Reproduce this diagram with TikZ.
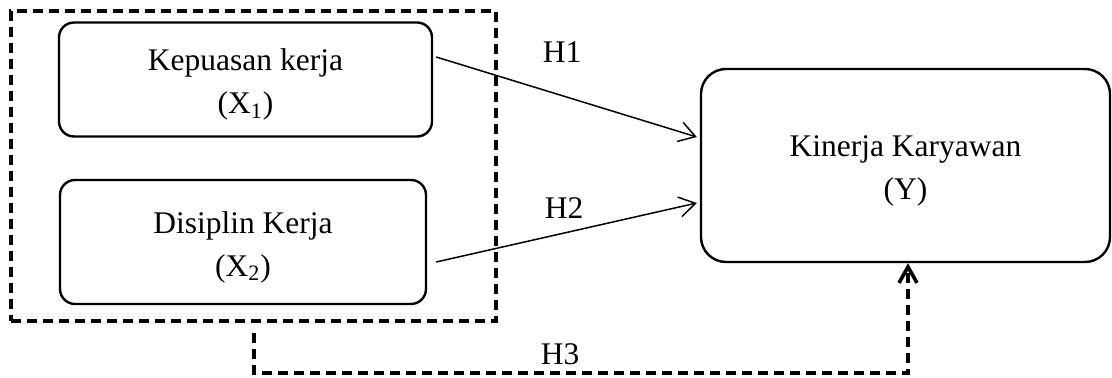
\documentclass[tikz,border=0pt]{standalone}
\usepackage{fontspec}
\setmainfont{Liberation Serif}
\usetikzlibrary{arrows.meta,calc}
\begin{document}
\begin{tikzpicture}[x=0.5pt,y=-0.5pt,
  every node/.style={font=\fontsize{15.75}{21.5}\selectfont},
  varbox/.style={draw,line width=1.2pt,align=center,inner sep=0pt},
  grpbox/.style={draw,line width=1.8pt,dash pattern=on 5pt off 3pt,inner sep=0pt},
  hyp/.style={line width=0.75pt,-{Straight Barb[length=8pt,width=10pt,line width=0.75pt]}},
  hypdash/.style={line width=1.8pt,dash pattern=on 5pt off 3pt,-{Straight Barb[length=8pt,width=9pt,line width=1.8pt]}},
  lbl/.style={anchor=base,inner sep=0pt}]
\useasboundingbox[fill=white] (0,0) rectangle (1112,378);
\node[grpbox,minimum width=242.5pt,minimum height=155pt] (grp) at (253.5,166) {};
\node[varbox,rounded corners=7.5pt,minimum width=186.5pt,minimum height=57pt] (x1) at (245.5,79.5)
  {\rule{0pt}{16pt}Kepuasan kerja\\(X\textsubscript{1})};
\node[varbox,rounded corners=7.5pt,minimum width=183pt,minimum height=62pt] (x2) at (243,242)
  {\rule{0pt}{16pt}Disiplin Kerja\\(X\textsubscript{2})};
\node[varbox,rounded corners=12.5pt,minimum width=204.5pt,minimum height=96.5pt] (y) at (905.5,165.5)
  {\rule{0pt}{16pt}Kinerja Karyawan\\(Y)};
\coordinate (s1) at ($(x1.east)+(3,-22.5)$);
\coordinate (s2) at ($(x2.east)+(9,20)$);
\draw[hyp] (s1) -- ($(y.west)+(-3,-28.5)$);
\draw[hyp] (s2) -- ($(y.west)+(-3,37.5)$);
\node[lbl] (h1) at (562,63) {H1};
\node[lbl] (h2) at (564,219) {H2};
\coordinate (h3s) at (254,333);
\coordinate (h3c) at (908,373);
\draw[hypdash] (h3s) -- (h3s |- h3c) -- (h3c) -- (h3c |- y.south);
\node[lbl] (h3) at (560,365) {H3};
\end{tikzpicture}
\end{document}
